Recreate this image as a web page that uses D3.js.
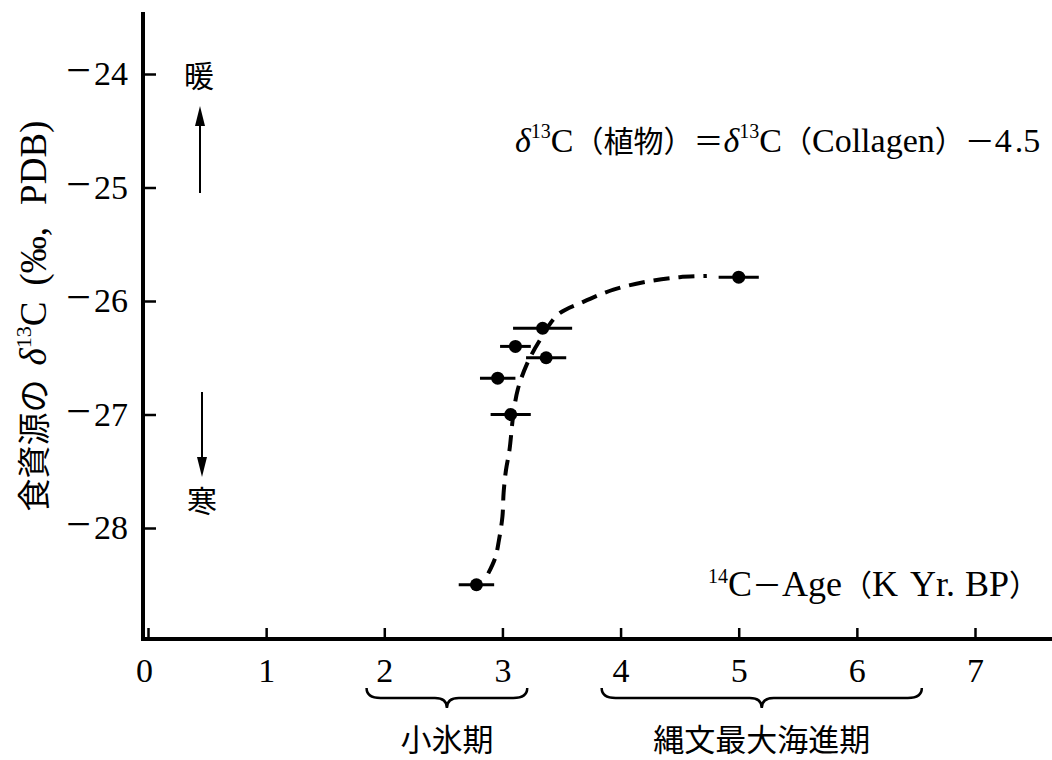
<!DOCTYPE html>
<html>
<head>
<meta charset="utf-8">
<script src="https://cdn.jsdelivr.net/npm/d3@7"></script>
<style>
  body { margin: 0; background: #fff; }
  text { fill: #000; }
</style>
</head>
<body>
<svg id="chart" width="1052" height="760"></svg>
<script>
// measured samples: 14C age (K yr BP) and d13C of the food source
const ageK   = [2.78, 2.96, 3.07, 3.11, 3.34, 3.37, 5.00];
const d13C   = [-28.50, -26.68, -27.00, -26.40, -26.24, -26.50, -25.79];
const ageErr = [0.15, 0.15, 0.17, 0.13, 0.25, 0.17, 0.17];

// hand-drawn trend line (dashed)
const curveAge  = [2.88, 2.94, 2.97, 3.00, 3.01, 3.03, 3.06, 3.09, 3.13, 3.21, 3.32, 3.47, 3.68, 3.94, 4.22, 4.50, 4.73];
const curveD13C = [-28.40, -28.26, -28.11, -27.90, -27.69, -27.49, -27.31, -27.02, -26.78, -26.55, -26.34, -26.12, -26.01, -25.90, -25.83, -25.79, -25.78];

// axis ticks
const xTicks = [0, 1, 2, 3, 4, 5, 6, 7];
const yTicks = [-24, -25, -26, -27, -28];

// periods marked with braces under the x axis
const periodNames = ['小氷期', '縄文最大海進期'];
const periodFrom  = [1.85, 3.84];
const periodTo    = [3.21, 6.55];

const serif = "'Liberation Serif', 'DejaVu Serif', serif";
const cjk = "'Noto Sans CJK JP', sans-serif";

const svg = d3.select('#chart');

// scales
const x = d3.scaleLinear().domain([0, 7]).range([148, 975]);
const y = d3.scaleLinear().domain([-28, -24]).range([528, 74]);
const axisX = 143, axisY = 639;

// y axis
const gy = svg.append('g')
  .attr('transform', `translate(${axisX},0)`)
  .call(d3.axisLeft(y).tickValues(yTicks).tickSize(-13).tickPadding(15));
gy.select('.domain').remove();
gy.selectAll('.tick line').attr('stroke', '#000').attr('stroke-width', 2.5);
gy.selectAll('.tick text')
  .style('font-family', serif)
  .style('font-size', '34px')
  .each(function (d) {
    const t = d3.select(this).text(null);
    t.append('tspan').style('font-size', '44px').text('−');
    t.append('tspan').attr('dx', 3).text(Math.abs(d));
  });
svg.append('line')
  .attr('x1', axisX).attr('x2', axisX)
  .attr('y1', 12).attr('y2', axisY + 2)
  .attr('stroke', '#000').attr('stroke-width', 4);

// x axis
const gx = svg.append('g')
  .attr('transform', `translate(0,${axisY})`)
  .call(d3.axisBottom(x).tickValues(xTicks).tickFormat(d3.format('d')).tickSize(-11).tickPadding(19));
gx.select('.domain').remove();
gx.selectAll('.tick line').attr('stroke', '#000').attr('stroke-width', 2.5);
gx.selectAll('.tick text')
  .style('font-family', serif)
  .style('font-size', '34px');
gx.select('.tick text').attr('dx', -4);
svg.append('line')
  .attr('x1', axisX - 2).attr('x2', 1052)
  .attr('y1', axisY).attr('y2', axisY)
  .attr('stroke', '#000').attr('stroke-width', 4);

// dashed trend line
const curvePts = curveAge.map((a, i) => [a, curveD13C[i]]);
svg.append('path')
  .datum(curvePts)
  .attr('fill', 'none')
  .attr('stroke', '#000')
  .attr('stroke-width', 4)
  .attr('stroke-dasharray', '16,9')
  .attr('d', d3.line().x(d => x(d[0])).y(d => y(d[1])).curve(d3.curveCatmullRom.alpha(0.5)));

// error bars + points
const pts = ageK.map((a, i) => ({ a, v: d13C[i], e: ageErr[i] }));
svg.selectAll('.err')
  .data(pts)
  .enter()
  .append('line')
  .attr('class', 'err')
  .attr('x1', d => x(d.a - d.e))
  .attr('x2', d => x(d.a + d.e))
  .attr('y1', d => y(d.v))
  .attr('y2', d => y(d.v))
  .attr('stroke', '#000')
  .attr('stroke-width', 3);
svg.selectAll('.pt')
  .data(pts)
  .enter()
  .append('circle')
  .attr('class', 'pt')
  .attr('cx', d => x(d.a))
  .attr('cy', d => y(d.v))
  .attr('r', 6.5)
  .attr('fill', '#000');

// warm / cold arrows
function arrow(x0, yFrom, yTo) {
  const dir = yTo < yFrom ? 1 : -1;
  svg.append('line')
    .attr('x1', x0).attr('x2', x0)
    .attr('y1', yFrom).attr('y2', yTo + dir * 10)
    .attr('stroke', '#000').attr('stroke-width', 2);
  svg.append('path')
    .attr('d', `M${x0},${yTo} L${x0 - 5},${yTo + dir * 20} L${x0 + 5},${yTo + dir * 20} Z`)
    .attr('fill', '#000');
}
arrow(200, 193, 106);
arrow(202, 392, 477);

svg.append('text')
  .attr('x', 199).attr('y', 87)
  .attr('text-anchor', 'middle')
  .style('font-family', cjk).style('font-size', '30px')
  .text('暖');
svg.append('text')
  .attr('x', 202).attr('y', 512)
  .attr('text-anchor', 'middle')
  .style('font-family', cjk).style('font-size', '30px')
  .text('寒');

// y axis title (rotated)
const yt = svg.append('text')
  .attr('transform', 'translate(46,316) rotate(-90)')
  .attr('text-anchor', 'middle')
  .style('font-family', serif)
  .style('font-size', '37px');
yt.append('tspan').style('font-family', cjk).style('font-size', '33px').text('食資源の');
yt.append('tspan').attr('dx', 14).style('font-style', 'italic').text('δ');
yt.append('tspan').attr('dy', -15).style('font-size', '22px').text('13');
yt.append('tspan').attr('dy', 15).text('C');
yt.append('tspan').attr('dx', 16).text('(‰,');
yt.append('tspan').attr('dx', 22).text('PDB)');

// formula
const ft = svg.append('text')
  .attr('x', 515).attr('y', 152)
  .style('font-family', serif)
  .style('font-size', '34px');
ft.append('tspan').style('font-style', 'italic').text('δ');
ft.append('tspan').attr('dy', -14).style('font-size', '20px').text('13');
ft.append('tspan').attr('dy', 14).text('C');
ft.append('tspan').style('font-family', cjk).style('font-size', '30px').text('（植物）＝');
ft.append('tspan').style('font-style', 'italic').text('δ');
ft.append('tspan').attr('dy', -14).style('font-size', '20px').text('13');
ft.append('tspan').attr('dy', 14).text('C');
ft.append('tspan').style('font-family', cjk).style('font-size', '30px').text('（');
ft.append('tspan').text('Collagen');
ft.append('tspan').style('font-family', cjk).style('font-size', '30px').text('）－');
ft.append('tspan').text('4');
ft.append('tspan').attr('dx', 3).text('.5');

// x axis title
const xt = svg.append('text')
  .attr('x', 708).attr('y', 596)
  .style('font-family', serif)
  .style('font-size', '36px');
xt.append('tspan').attr('dy', -13).style('font-size', '20px').text('14');
xt.append('tspan').attr('dy', 13).text('C');
xt.append('tspan').style('font-family', cjk).style('font-size', '30px').text('－');
xt.append('tspan').text('Age');
xt.append('tspan').style('font-family', cjk).style('font-size', '30px').text('（');
xt.append('tspan').text('K');
xt.append('tspan').attr('dx', 12).text('Yr.');
xt.append('tspan').attr('dx', 10).text('BP');
xt.append('tspan').style('font-family', cjk).style('font-size', '30px').text('）');

// braces for the periods
const bTop = 688, bMid = 698, bTip = 708;
function bracePath(x0, x1) {
  const xm = (x0 + x1) / 2;
  return `M${x0},${bTop} Q${x0},${bMid} ${x0 + 14},${bMid} L${xm - 12},${bMid} ` +
         `Q${xm},${bMid} ${xm},${bTip} Q${xm},${bMid} ${xm + 12},${bMid} ` +
         `L${x1 - 14},${bMid} Q${x1},${bMid} ${x1},${bTop}`;
}
periodNames.forEach((name, i) => {
  const x0 = x(periodFrom[i]), x1 = x(periodTo[i]);
  svg.append('path')
    .attr('d', bracePath(x0, x1))
    .attr('fill', 'none')
    .attr('stroke', '#000')
    .attr('stroke-width', 2.5);
  svg.append('text')
    .attr('x', (x0 + x1) / 2)
    .attr('y', 751)
    .attr('text-anchor', 'middle')
    .style('font-family', cjk)
    .style('font-size', '31px')
    .text(name);
});
</script>
</body>
</html>
